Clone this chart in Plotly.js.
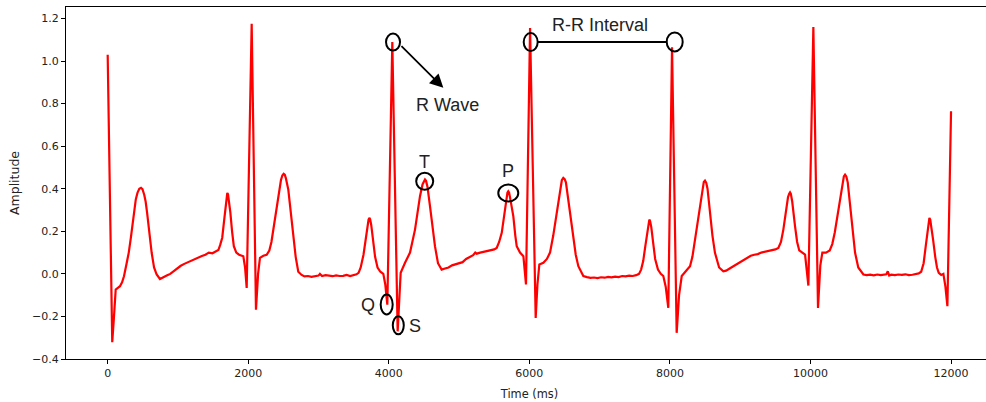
<!DOCTYPE html>
<html>
<head>
<meta charset="utf-8">
<script src="https://cdn.plot.ly/plotly-3.0.1.min.js"></script>
<style>
html, body { margin: 0; padding: 0; overflow: hidden; background: #fff; }
#chart { width: 993px; height: 402px; }
</style>
</head>
<body>
<div id="chart"></div>
<script>
// ---- ECG signal (time in ms, amplitude) ----
const timeMs = [
  0, 65, 90, 114, 145, 175, 205, 232, 270, 300, 330, 364, 400, 425, 450, 474, 495, 520, 540, 560, 590, 626, 660, 697, 744,
  790, 840, 890, 940, 990, 1040, 1090, 1140, 1190, 1240, 1290, 1340, 1390, 1440, 1490, 1540, 1575,
  1600, 1630, 1660, 1685, 1693, 1702, 1712, 1725, 1745, 1770, 1795, 1830, 1870, 1930, 1955, 1978, 2049, 2110, 2140, 2167, 2215, 2262, 2300, 2330, 2357, 2395, 2428, 2465, 2485, 2504, 2520, 2535, 2570, 2605, 2641, 2675, 2712, 2760,
  2800, 2850, 2900, 2950, 3000, 3020, 3050, 3100, 3150, 3200, 3250, 3300, 3350, 3400, 3450, 3500, 3540,
  3570, 3600, 3640, 3670, 3700, 3712, 3723, 3734, 3750, 3775, 3805, 3840, 3880, 3922, 3950, 3979, 4050, 4126, 4150, 4169, 4231, 4302, 4373, 4410, 4444, 4480, 4500, 4515, 4530, 4550, 4586, 4620, 4657, 4700, 4752,
  4800, 4850, 4900, 4950, 5000, 5050, 5100, 5150, 5200, 5230, 5250, 5300, 5350, 5400, 5450, 5500, 5535,
  5570, 5607, 5640, 5670, 5688, 5700, 5712, 5730, 5772, 5800, 5820, 5867, 5915, 5952, 6010, 6090, 6115, 6142, 6199, 6250, 6294, 6340, 6389, 6440, 6462, 6483, 6502, 6520, 6554, 6590, 6626, 6660, 6697, 6768,
  6820, 6870, 6920, 6970, 7020, 7070, 7120, 7170, 7220, 7270, 7320, 7370, 7420, 7470, 7520, 7560,
  7590, 7620, 7650, 7680, 7696, 7707, 7718, 7735, 7760, 7790, 7830, 7870, 7906, 7940, 7977, 8030, 8096, 8130, 8168, 8220, 8286, 8320, 8357, 8390, 8428, 8465, 8482, 8499, 8517, 8535, 8570, 8605, 8641, 8700, 8760,
  8800, 8850, 8900, 8950, 9000, 9050, 9100, 9150, 9200, 9250, 9300, 9350, 9400, 9450, 9500, 9543,
  9580, 9614, 9645, 9680, 9697, 9709, 9721, 9740, 9780, 9810, 9840, 9875, 9923, 9970, 10041, 10107, 10140, 10169, 10220, 10274, 10310, 10345, 10380, 10416, 10455, 10475, 10492, 10510, 10530, 10563, 10600, 10634, 10680, 10753,
  10800, 10850, 10900, 10950, 11000, 11050, 11080, 11100, 11120, 11150, 11200, 11250, 11300, 11350, 11400, 11450, 11500, 11540,
  11575, 11610, 11640, 11665, 11680, 11692, 11704, 11720, 11745, 11775, 11800, 11825, 11860, 11891, 11920, 11948, 12000
];
const amplitude = [
  1.03, -0.321, -0.2, -0.074, -0.066, -0.058, -0.04, -0.011, 0.05, 0.1, 0.17, 0.27, 0.35, 0.382, 0.4, 0.404, 0.398, 0.372, 0.34, 0.29, 0.2, 0.099, 0.03, -0.003, -0.024,
  -0.018, -0.008, 0.0, 0.012, 0.028, 0.038, 0.047, 0.055, 0.062, 0.07, 0.078, 0.084, 0.09, 0.1, 0.097, 0.106, 0.112,
  0.135, 0.17, 0.26, 0.35, 0.37, 0.38, 0.375, 0.345, 0.29, 0.2, 0.13, 0.1, 0.09, 0.083, 0.03, -0.066, 1.175, -0.168, 0.0, 0.075, 0.085, 0.09, 0.11, 0.15, 0.208, 0.29, 0.365, 0.44, 0.462, 0.47, 0.466, 0.45, 0.396, 0.3, 0.193, 0.08, 0.01, -0.005,
  -0.012, -0.01, -0.014, -0.01, -0.008, 0.0, -0.01, -0.006, -0.01, -0.011, -0.007, -0.01, -0.009, -0.005, -0.01, -0.006, -0.002,
  0.005, 0.03, 0.09, 0.16, 0.235, 0.255, 0.263, 0.257, 0.23, 0.16, 0.08, 0.03, 0.01, 0.0, -0.05, -0.145, 1.09, -0.27, -0.08, 0.005, 0.052, 0.1, 0.208, 0.29, 0.365, 0.42, 0.438, 0.443, 0.437, 0.41, 0.318, 0.22, 0.13, 0.05, 0.02,
  0.025, 0.03, 0.04, 0.045, 0.05, 0.055, 0.07, 0.078, 0.088, 0.1, 0.095, 0.1, 0.104, 0.108, 0.11, 0.115, 0.122,
  0.15, 0.193, 0.28, 0.36, 0.382, 0.388, 0.382, 0.35, 0.27, 0.18, 0.13, 0.1, 0.083, -0.05, 1.155, -0.207, -0.05, 0.044, 0.052, 0.07, 0.1, 0.18, 0.29, 0.4, 0.44, 0.451, 0.445, 0.43, 0.35, 0.25, 0.16, 0.09, 0.036, -0.01,
  -0.015, -0.019, -0.017, -0.02, -0.016, -0.018, -0.014, -0.016, -0.013, -0.015, -0.01, -0.012, -0.008, -0.01, -0.006, 0.0,
  0.02, 0.06, 0.13, 0.21, 0.245, 0.255, 0.248, 0.22, 0.15, 0.07, 0.02, 0.0, -0.01, -0.06, -0.16, 1.065, -0.277, -0.1, -0.01, 0.01, 0.036, 0.08, 0.161, 0.24, 0.333, 0.41, 0.432, 0.438, 0.428, 0.4, 0.287, 0.18, 0.099, 0.03, 0.012,
  0.015, 0.025, 0.035, 0.048, 0.059, 0.066, 0.076, 0.085, 0.09, 0.093, 0.1, 0.104, 0.106, 0.112, 0.115, 0.122,
  0.15, 0.208, 0.29, 0.36, 0.377, 0.383, 0.376, 0.34, 0.224, 0.15, 0.11, 0.1, 0.09, -0.055, 1.16, -0.16, 0.04, 0.1, 0.1, 0.11, 0.14, 0.193, 0.27, 0.35, 0.43, 0.458, 0.466, 0.458, 0.43, 0.318, 0.2, 0.1, 0.03, -0.003,
  -0.006, -0.004, -0.007, -0.003, -0.006, -0.004, -0.002, 0.012, -0.008, -0.004, -0.006, -0.003, -0.005, -0.002, -0.006, -0.004, -0.002, 0.002,
  0.01, 0.05, 0.13, 0.21, 0.248, 0.263, 0.255, 0.225, 0.16, 0.08, 0.03, 0.005, -0.005, 0.0, -0.06, -0.152, 0.764
];

// ---- axis ticks ----
const xTickVals = [0, 2000, 4000, 6000, 8000, 10000, 12000];
const xTickText = ['0', '2000', '4000', '6000', '8000', '10000', '12000'];
const yTickVals = [-0.4, -0.2, 0.0, 0.2, 0.4, 0.6, 0.8, 1.0, 1.2];
const yTickText = ['\u22120.4', '\u22120.2', '0.0', '0.2', '0.4', '0.6', '0.8', '1.0', '1.2'];

// ---- annotated points (circles): R, R-R start, R-R end, T, P, Q, S ----
const circleNames = ['R', 'RR start', 'RR end', 'T', 'P', 'Q', 'S'];
const circleTime = [4060, 6019, 8068, 4511, 5700, 3970, 4135];
const circleAmp = [1.089, 1.089, 1.090, 0.435, 0.380, -0.144, -0.242];

// ---- annotation labels ----
const labelText = ['R Wave', 'R-R Interval', 'T', 'P', 'Q', 'S'];
const labelTime = [4835, 7010, 4515, 5700, 3708, 4369];
const labelAmp = [0.795, 1.171, 0.527, 0.482, -0.147, -0.246];

// arrow from R circle toward the "R Wave" label
const arrowTail = [4159, 1.077];
const arrowTip = [4776, 0.874];

// ---- styling ----
const circleSizePx = [[14, 17], [14, 18], [16, 19], [17, 17], [20, 17], [12, 20], [11, 18]];
const xRange = [-593, 12597];
const yRange = [-0.4, 1.254];
const M = { l: 66, r: 0, t: 7, b: 43 };
const W = 993, H = 402;
const msPerPx = (xRange[1] - xRange[0]) / (W - M.l - M.r);

const trace = {
  x: timeMs, y: amplitude, type: 'scatter', mode: 'lines',
  line: { color: '#ff0000', width: 2.2 }, hoverinfo: 'skip'
};

const shapes = circleTime.map((t, i) => ({
  type: 'circle', xref: 'x', yref: 'y',
  xsizemode: 'pixel', ysizemode: 'pixel',
  xanchor: t, yanchor: circleAmp[i],
  x0: -circleSizePx[i][0] / 2, x1: circleSizePx[i][0] / 2,
  y0: -circleSizePx[i][1] / 2, y1: circleSizePx[i][1] / 2,
  line: { color: '#000', width: 2 }, fillcolor: 'rgba(0,0,0,0)'
}));
// R-R interval connector between the two circles
shapes.push({
  type: 'line', xref: 'x', yref: 'y',
  x0: circleTime[1] + (circleSizePx[1][0] / 2) * msPerPx,
  x1: circleTime[2] - (circleSizePx[2][0] / 2) * msPerPx,
  y0: (circleAmp[1] + circleAmp[2]) / 2, y1: (circleAmp[1] + circleAmp[2]) / 2,
  line: { color: '#000', width: 2 }
});

const annFont = { family: 'Liberation Sans, Arial, sans-serif', size: 18, color: '#222' };
const annotations = labelText.map((s, i) => ({
  x: labelTime[i], y: labelAmp[i], xref: 'x', yref: 'y',
  text: s, showarrow: false, font: annFont, xanchor: 'center', yanchor: 'middle'
}));
annotations.push({
  x: arrowTip[0], y: arrowTip[1], ax: arrowTail[0], ay: arrowTail[1],
  xref: 'x', yref: 'y', axref: 'x', ayref: 'y',
  text: '', showarrow: true, arrowhead: 2, arrowsize: 1.5, arrowwidth: 1.8, arrowcolor: '#000'
});

const tickFont = { family: 'DejaVu Sans, sans-serif', size: 11, color: '#222' };
const layout = {
  width: W, height: H, margin: M,
  paper_bgcolor: '#fff', plot_bgcolor: '#fff',
  showlegend: false,
  xaxis: {
    range: xRange, tickvals: xTickVals, ticktext: xTickText,
    ticks: 'outside', ticklen: 4, tickwidth: 1, tickcolor: '#000',
    showline: true, linecolor: '#000', linewidth: 1, mirror: true,
    showgrid: false, zeroline: false, tickfont: tickFont,
    title: { text: 'Time (ms)', font: { family: 'DejaVu Sans, sans-serif', size: 11.4, color: '#222' }, standoff: 10 }
  },
  yaxis: {
    range: yRange, tickvals: yTickVals, ticktext: yTickText,
    ticks: 'outside', ticklen: 4, tickwidth: 1, tickcolor: '#000',
    showline: true, linecolor: '#000', linewidth: 1, mirror: true,
    showgrid: false, zeroline: false, tickfont: tickFont,
    title: { text: 'Amplitude', font: { family: 'DejaVu Sans, sans-serif', size: 12.5, color: '#222' }, standoff: 9 }
  },
  shapes: shapes, annotations: annotations
};

Plotly.newPlot('chart', [trace], layout, { staticPlot: true, displayModeBar: false });
</script>
</body>
</html>
